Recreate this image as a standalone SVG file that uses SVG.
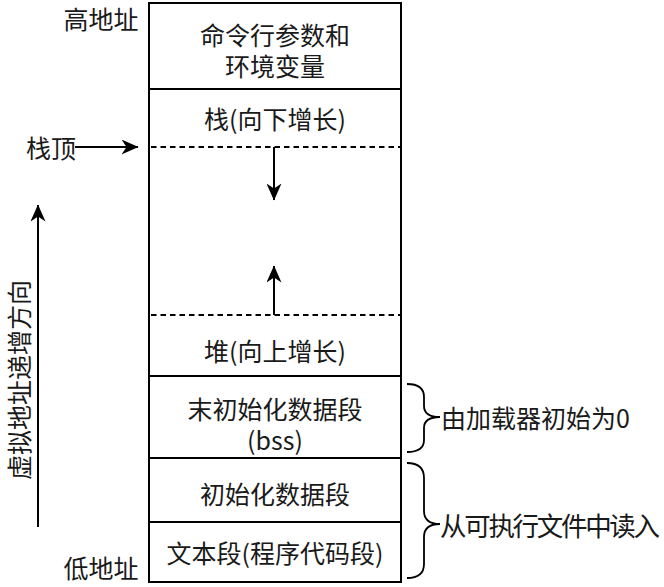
<svg xmlns="http://www.w3.org/2000/svg" width="664" height="587" viewBox="0 0 664 587">
<style>
text{font-family:"Noto Sans CJK SC","Liberation Sans",sans-serif;font-size:25px;fill:#1a1a1a;dominant-baseline:central}
.c{text-anchor:middle}
.box{fill:#fff;stroke:#000;stroke-width:2}
.dash{stroke:#000;stroke-width:1.8;stroke-dasharray:5.5 4;fill:none}
.ln{stroke:#000;stroke-width:2;fill:none}
.br{stroke:#000;stroke-width:1.8;fill:none}
</style>
<defs>
<marker id="ah" viewBox="0 0 17 15" refX="16.5" refY="7.5" markerWidth="17" markerHeight="15" markerUnits="userSpaceOnUse" orient="auto">
<path d="M0,0 L17,7.5 L0,15 L5,7.5 z" fill="#000"/>
</marker>
</defs>
<rect width="664" height="587" fill="#fff"/>
<g id="memory">
<g id="args"><rect class="box" x="149" y="3" width="252" height="86"/>
<text class="c" x="275" y="34">命令行参数和</text><text class="c" x="275" y="65">环境变量</text></g>
<g id="stackheap"><rect class="box" x="149" y="89" width="252" height="287"/>
<text class="c" x="275" y="118">栈(向下增长)</text><text class="c" x="275" y="350">堆(向上增长)</text></g>
<g id="bss"><rect class="box" x="149" y="376" width="252" height="82"/>
<text class="c" x="275" y="408">末初始化数据段</text><text class="c" x="275" y="439">(bss)</text></g>
<g id="data"><rect class="box" x="149" y="458" width="252" height="64"/>
<text class="c" x="275" y="493">初始化数据段</text></g>
<g id="text"><rect class="box" x="149" y="522" width="252" height="60"/>
<text class="c" x="275" y="552">文本段(程序代码段)</text></g>
</g>
<g id="labels">
<text class="c" x="101" y="18">高地址</text>
<text class="c" x="101" y="567">低地址</text>
<text class="c" x="51" y="147">栈顶</text>
<text class="c" transform="translate(18,380) rotate(-90)" x="0" y="0">虚拟地址递增方向</text>
<text x="441" y="417">由加载器初始为0</text>
<text x="440" y="524" style="font-size:26.5px" textLength="220" lengthAdjust="spacing">从可执行文件中读入</text>
</g>
<g id="connectors">
<line class="dash" x1="151" y1="147" x2="400" y2="147"/>
<line class="dash" x1="151" y1="315" x2="400" y2="315"/>
<line class="ln" x1="75" y1="147" x2="138" y2="147" marker-end="url(#ah)"/>
<line class="ln" x1="274" y1="147" x2="274" y2="200" marker-end="url(#ah)"/>
<line class="ln" x1="274" y1="315" x2="274" y2="266" marker-end="url(#ah)"/>
<line class="ln" x1="38" y1="527" x2="38" y2="205" marker-end="url(#ah)"/>
<path class="br" d="M407,384 Q424,384 424,397 L424,406 Q424,417 440,417 Q424,417 424,428 L424,440 Q424,452 407,452"/>
<path class="br" d="M407,463 Q424,463 424,478 L424,511 Q424,524 440,524 Q424,524 424,537 L424,564 Q424,578 407,578"/>
</g>
</svg>
